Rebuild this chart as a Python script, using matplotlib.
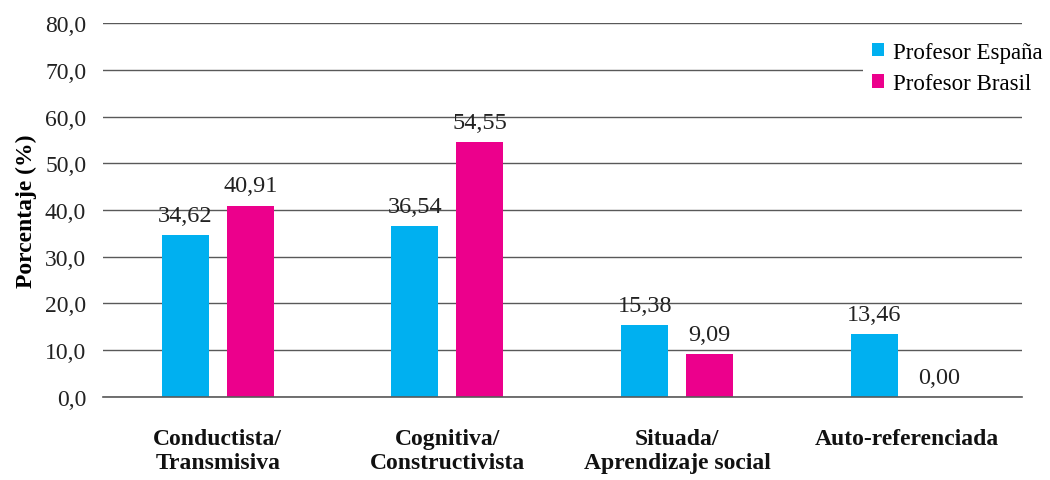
import matplotlib.pyplot as plt
import numpy as np

categorias = ["Conductista/\nTransmisiva", "Cognitiva/\nConstructivista",
              "Situada/\nAprendizaje social", "Auto-referenciada"]
espana = [34.62, 36.54, 15.38, 13.46]
brasil = [40.91, 54.55, 9.09, 0.00]
series = ["Profesor España", "Profesor Brasil"]

plt.rcParams['font.family'] = ['Liberation Serif', 'DejaVu Serif']

fig = plt.figure(figsize=(10.5, 4.81), dpi=100)
ax = fig.add_axes([0.098, 0.1726, 0.875, 0.7774])

x = np.arange(len(categorias))
w = 0.205
off = 0.1415
b1 = ax.bar(x - off, espana, width=w, color="#00B0F0", label=series[0], zorder=3)
b2 = ax.bar(x + off, brasil, width=w, color="#EC008C", label=series[1], zorder=3)

def fmt(v):
    return f"{v:.2f}".replace(".", ",")

for bars, vals in [(b1, espana), (b2, brasil)]:
    for r, v in zip(bars, vals):
        ax.text(r.get_x() + r.get_width() / 2, v + 2.0, fmt(v),
                ha="center", va="bottom", fontsize=17.5, color="#222222")

ax.set_xlim(-0.5, 3.5)
ax.set_ylim(0, 80)
ax.set_yticks(np.arange(0, 81, 10))
ax.set_yticklabels([f"{t:.1f}".replace(".", ",") for t in np.arange(0, 81, 10)],
                   fontsize=17, color="#222222")
ax.yaxis.grid(True, color="#595959", linewidth=1, zorder=0)
ax.axhline(0, color="#595959", linewidth=1.2, zorder=4, clip_on=False)
ax.set_axisbelow(True)
for s in ["top", "right", "left", "bottom"]:
    ax.spines[s].set_visible(False)
ax.tick_params(axis="both", length=0)
ax.tick_params(axis="y", pad=12)
ax.set_xticks(x)
ax.set_xticklabels(categorias, fontsize=17, fontweight="bold", color="#111111",
                   linespacing=1.2)
ax.tick_params(axis="x", pad=22)
ax.set_ylabel("Porcentaje (%)", fontsize=17, fontweight="bold", labelpad=6)

leg = ax.legend(loc="upper left", bbox_to_anchor=(0.822, 0.93),
                bbox_transform=fig.transFigure, frameon=True, fontsize=16.5,
                facecolor="white", edgecolor="none", framealpha=1, fancybox=False,
                handlelength=0.5, handleheight=0.5, handletextpad=0.4,
                labelspacing=0.45, borderaxespad=0, borderpad=0.4)
leg.set_zorder(5)

fig.savefig("out.png", dpi=100)
